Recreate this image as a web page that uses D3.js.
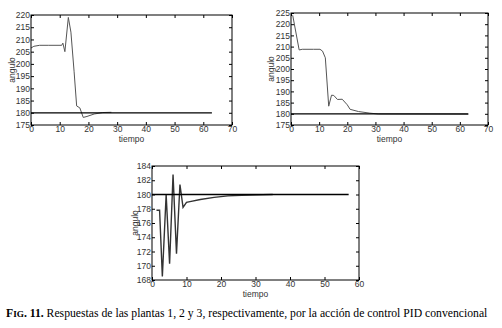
<!DOCTYPE html>
<html>
<head>
<meta charset="utf-8">
<script src="https://cdn.jsdelivr.net/npm/d3@7"></script>
<style>
  body { margin: 0; background: #fff; }
  svg { display: block; }
  .tick text { font-family: "Liberation Sans", Arial, sans-serif; font-size: 8.5px; fill: #333; }
</style>
</head>
<body>
<figure style="margin:0"></figure>
<script>
// planta 1
const t1 = [0, 1, 3, 6, 10.7, 11.1, 11.8, 13, 13.9, 15, 15.9, 17, 18.2, 19.5, 22, 25, 28];
const y1 = [206.5, 207.2, 207.6, 207.6, 207.6, 208.5, 205, 219, 213, 197, 182.8, 182, 178.1, 178.5, 179.5, 180.1, 180.2];
// planta 2
const t2 = [0.6, 2.9, 4, 8, 10.3, 11.2, 12.2, 13.4, 14.4, 15.2, 16.5, 18.2, 20, 21, 24, 28, 31, 63];
const y2 = [224, 208.5, 208.8, 208.8, 208.8, 208, 205, 183.4, 188.3, 188.2, 186.4, 186.5, 184, 182, 181, 180.3, 179.9, 179.8];
// planta 3
const t3 = [1.3, 2.2, 3, 4.1, 5.1, 6.1, 7.1, 8.1, 9, 10, 11, 14, 18, 22, 26, 35];
const y3 = [177.8, 177.8, 168.5, 180, 170.3, 182.8, 171.7, 181.4, 178.2, 178.9, 179, 179.3, 179.6, 179.8, 179.9, 180];

const refValue = 180;
const refEnd = [63, 63, 57];

const panels = [
  {t: t1, y: y1, ref: refEnd[0], xDom: [0, 70], yDom: [175, 220], xTicks: d3.range(0, 71, 10), yTicks: d3.range(175, 221, 5),
   box: {l: 31, r: 232, t: 15, b: 125}, ylabX: 12, lineColor: "#555", lineW: 1},
  {t: t2, y: y2, ref: refEnd[1], xDom: [0, 70], yDom: [175, 225], xTicks: d3.range(0, 71, 10), yTicks: d3.range(175, 226, 5),
   box: {l: 291, r: 488, t: 13, b: 125}, ylabX: 271, lineColor: "#555", lineW: 1},
  {t: t3, y: y3, ref: refEnd[2], xDom: [0, 60], yDom: [168, 184], xTicks: d3.range(0, 61, 10), yTicks: d3.range(168, 185, 2),
   box: {l: 152, r: 359, t: 166, b: 280}, ylabX: 135, lineColor: "#333", lineW: 1.4}
];

const svg = d3.select('figure').append('svg')
  .attr('width', 502)
  .attr('height', 328);

panels.forEach((p) => {
  const b = p.box;
  const x = d3.scaleLinear().domain(p.xDom).range([b.l, b.r]);
  const y = d3.scaleLinear().domain(p.yDom).range([b.b, b.t]);
  const g = svg.append('g');

  const line = d3.line()
    .x((d) => x(d[0]))
    .y((d) => y(d[1]));

  // respuesta
  g.append('path')
    .datum(p.t.map((v, i) => [v, p.y[i]]))
    .attr('fill', 'none')
    .attr('stroke', p.lineColor)
    .attr('stroke-width', p.lineW)
    .attr('d', line);

  // referencia
  g.append('path')
    .datum([[0, refValue], [p.ref, refValue]])
    .attr('fill', 'none')
    .attr('stroke', '#000')
    .attr('stroke-width', 1.3)
    .attr('d', line);

  // ejes con ticks hacia dentro
  g.append('g')
    .attr('transform', 'translate(0,' + b.b + ')')
    .call(d3.axisBottom(x).tickValues(p.xTicks).tickSize(-3).tickPadding(1))
    .call((a) => a.select('.domain').remove());
  g.append('g')
    .attr('transform', 'translate(' + b.l + ',0)')
    .call(d3.axisLeft(y).tickValues(p.yTicks).tickSize(-3).tickPadding(1))
    .call((a) => a.select('.domain').remove());
  g.append('g')
    .attr('transform', 'translate(0,' + b.t + ')')
    .call(d3.axisTop(x).tickValues(p.xTicks).tickSize(-3).tickFormat(''))
    .call((a) => a.select('.domain').remove());
  g.append('g')
    .attr('transform', 'translate(' + b.r + ',0)')
    .call(d3.axisRight(y).tickValues(p.yTicks).tickSize(-3).tickFormat(''))
    .call((a) => a.select('.domain').remove());

  g.selectAll('.tick line').attr('stroke', '#000');

  g.append('rect')
    .attr('x', b.l).attr('y', b.t)
    .attr('width', b.r - b.l).attr('height', b.b - b.t)
    .attr('fill', 'none')
    .attr('stroke', '#000')
    .attr('stroke-width', 1);

  g.append('text')
    .attr('x', (b.l + b.r) / 2)
    .attr('y', b.b + 17)
    .attr('text-anchor', 'middle')
    .style('font-family', '"Liberation Sans", Arial, sans-serif')
    .style('font-size', '8.5px')
    .attr('fill', '#333')
    .text('tiempo');

  g.append('text')
    .attr('transform', 'translate(' + (p.ylabX + 3) + ',' + ((b.t + b.b) / 2) + ') rotate(-90)')
    .attr('text-anchor', 'middle')
    .style('font-family', '"Liberation Sans", Arial, sans-serif')
    .style('font-size', '8.5px')
    .attr('fill', '#333')
    .text('angulo');
});

const cap = svg.append('text')
  .attr('x', 6)
  .attr('y', 317)
  .style('font-family', '"Liberation Serif", "Times New Roman", serif')
  .style('font-size', '11.7px')
  .attr('fill', '#000');
cap.append('tspan').style('font-weight', 'bold').text('F');
cap.append('tspan').style('font-weight', 'bold').style('font-size', '9.2px').text('IG');
cap.append('tspan').style('font-weight', 'bold').text('. 11.');
cap.append('tspan').text(' Respuestas de las plantas 1, 2 y 3, respectivamente, por la acción de control PID convencional');
</script>
</body>
</html>
